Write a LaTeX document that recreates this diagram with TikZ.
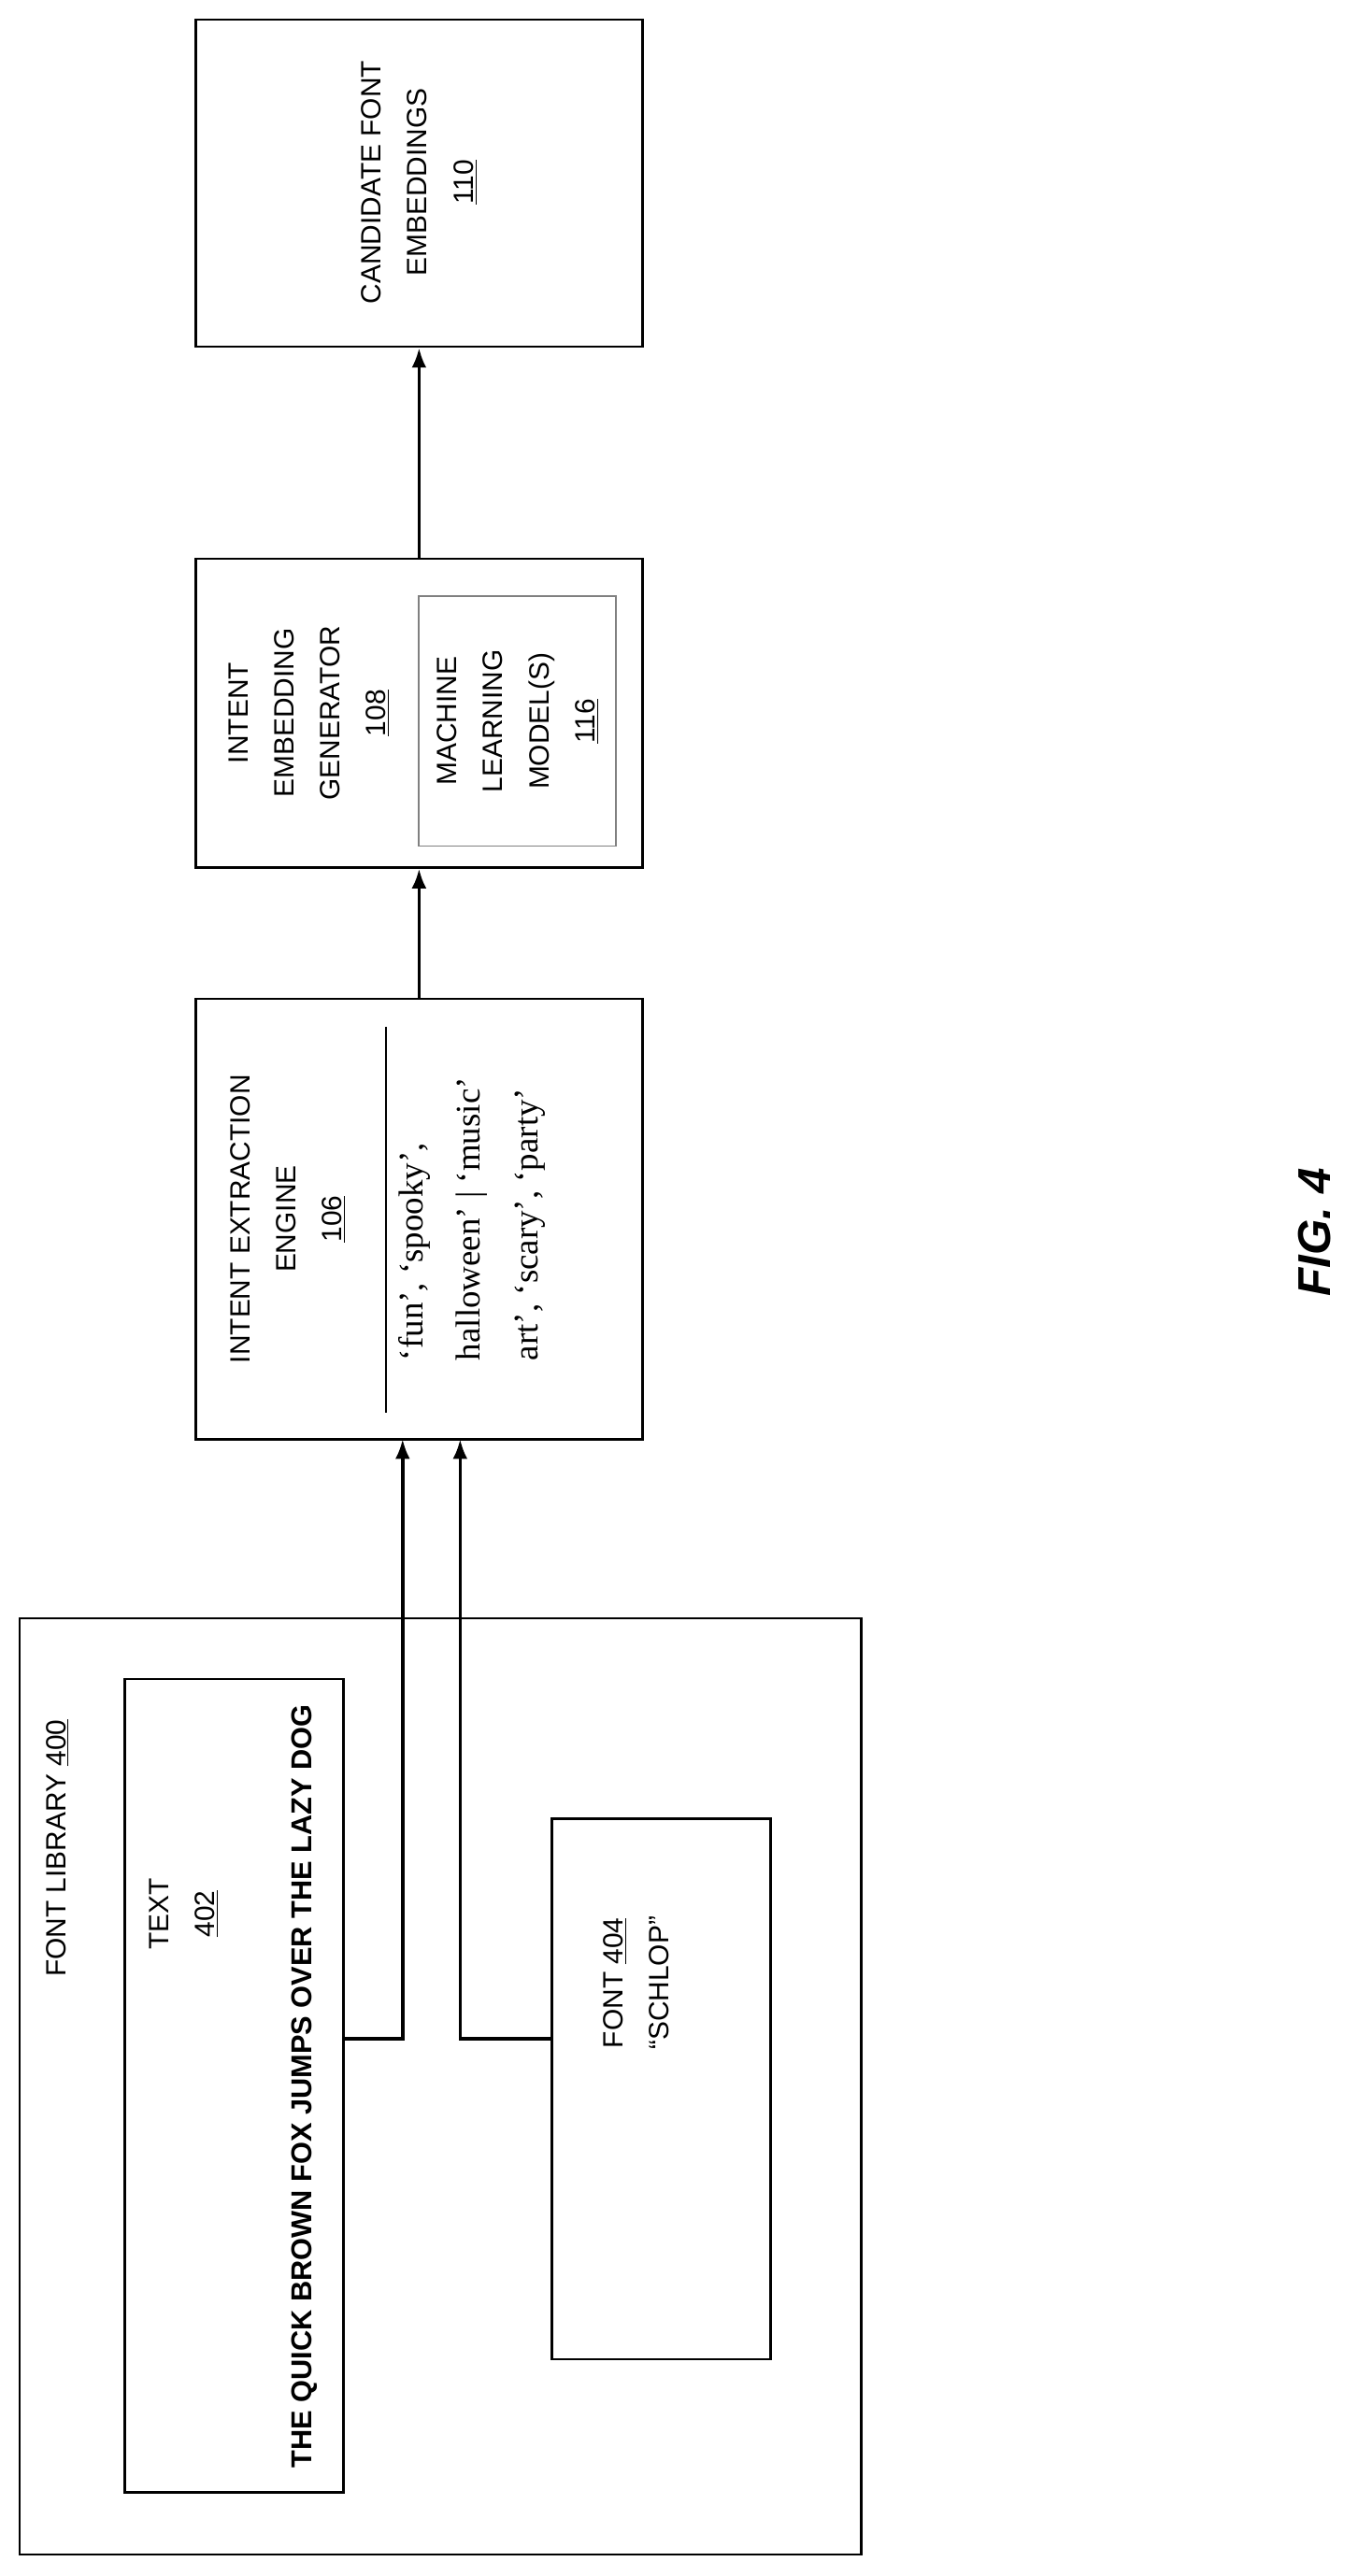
\documentclass[tikz,border=0pt]{standalone}
\usepackage{fontspec}
\setmainfont{Liberation Sans}
\newfontfamily\tagfont{Liberation Serif}
\usetikzlibrary{arrows.meta}
\begin{document}
\begin{tikzpicture}[x=1pt, y=-1pt,
  box/.style={draw, line width=1.5pt, inner sep=0pt},
  lbl/.style={rotate=90, align=center, font=\fontsize{17}{28}\selectfont},
  arr/.style={line width=2pt, -{Latex[length=12pt, width=9pt]}}]
% frame
\useasboundingbox (0,0) rectangle (826,1568);

% boxes
\node (cand)    [box, minimum width=272pt, minimum height=199pt] at (255,111.5) {};
\node (embed)   [box, minimum width=272pt, minimum height=188pt] at (255,434) {};
\node (mlmodel) [draw=gray, line width=1pt, minimum width=120pt, minimum height=152pt] at (315,439) {};
\node (extract) [box, minimum width=272pt, minimum height=268pt] at (255,742) {};
\node (library) [box, minimum width=512pt, minimum height=570pt] at (268,1270) {};
\node (textbox) [box, minimum width=133pt, minimum height=495pt] at (142.5,1269.5) {};
\node (fontbox) [box, minimum width=133pt, minimum height=329pt] at (402.5,1271.5) {};

% labels
\node [lbl] at (255,111) {CANDIDATE FONT\\EMBEDDINGS\\\underline{110}};
\node [lbl] at (188,434) {INTENT\\EMBEDDING\\GENERATOR\\\underline{108}};
\node [lbl] at (315,439) {MACHINE\\LEARNING\\MODEL(S)\\\underline{116}};
\node [lbl] at (175,742) {INTENT EXTRACTION\\ENGINE\\\underline{106}};
\node [rotate=90, align=left, font=\tagfont\fontsize{21}{35}\selectfont] at (287,742)
  {‘fun’, ‘spooky’,\\halloween’ | ‘music’\\art’, ‘scary’, ‘party’};
\draw [line width=1pt] (235,625) -- (235,860);
\node [lbl] at (35,1125) {FONT LIBRARY \underline{400}};
\node [lbl] at (112,1165) {TEXT\\\underline{402}};
\node [rotate=90, font=\bfseries\fontsize{17.5}{20}\selectfont] at (185,1270)
  {THE QUICK BROWN FOX JUMPS OVER THE LAZY DOG};
\node [lbl] at (387,1207) {FONT \underline{404}\\“SCHLOP”};
\node [rotate=90, font=\bfseries\itshape\fontsize{28}{30}\selectfont] at (800,750) {FIG. 4};

% connectors
\coordinate (in1) at (245,876);
\coordinate (in2) at (280,876);
\coordinate (bend) at (0,1241);
\draw [arr] (embed.north -| 255,0) -- (cand.south -| 255,0);
\draw [arr] (extract.north -| 255,0) -- (embed.south -| 255,0);
\draw [arr] (textbox.east |- bend) -| (in1);
\draw [arr] (fontbox.west |- bend) -| (in2);
\end{tikzpicture}
\end{document}
